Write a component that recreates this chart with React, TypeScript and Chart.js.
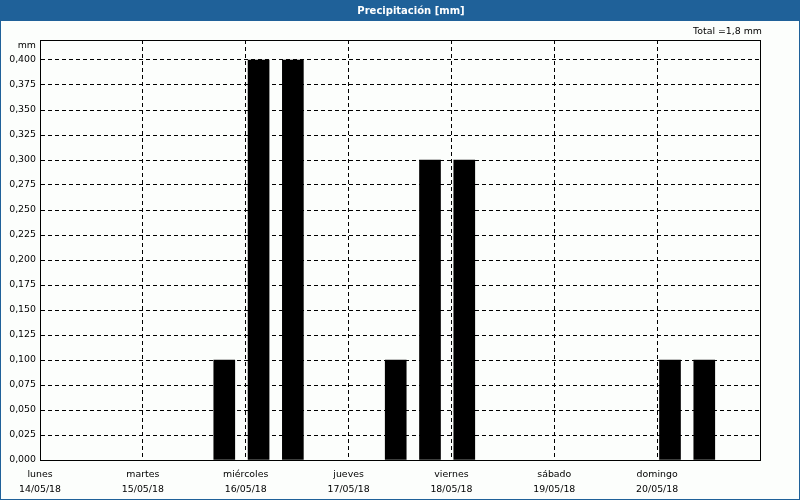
import React, { useEffect, useRef } from "react";
import { Chart, registerables } from "chart.js";

Chart.register(...registerables);

const dayNames = ["lunes", "martes", "miércoles", "jueves", "viernes", "sábado", "domingo"];
const dayDates = ["14/05/18", "15/05/18", "16/05/18", "17/05/18", "18/05/18", "19/05/18", "20/05/18"];
const barHours = [43, 51, 59, 83, 91, 99, 147, 155];
const barValues = [0.1, 0.4, 0.4, 0.1, 0.3, 0.3, 0.1, 0.1];
const titleText = "Precipitación [mm]";
const totalText = "Total =1,8 mm";
const unitText = "mm";

const FONT = "'DejaVu Sans', Tahoma, sans-serif";
const FS = 9.4;
const BLUE = "#1f6199";

const framePlugin = {
  id: "frame",
  beforeDraw(chart: any) {
    const ctx = chart.ctx;
    ctx.save();
    ctx.fillStyle = "#fcfefc";
    ctx.fillRect(0, 0, chart.width, chart.height);
    ctx.restore();
  },
  afterDraw(chart: any) {
    const ctx = chart.ctx;
    const { left, right, top, bottom } = chart.chartArea;
    ctx.save();
    ctx.strokeStyle = "#000";
    ctx.lineWidth = 1;
    ctx.setLineDash([]);
    ctx.strokeRect(Math.round(left) + 0.5, Math.round(top) + 0.5, Math.round(right - left), Math.round(bottom - top));
    ctx.fillStyle = BLUE;
    ctx.fillRect(0, 0, chart.width, 21);
    ctx.fillStyle = "#ffffff";
    ctx.font = `bold 10px ${FONT}`;
    ctx.textAlign = "center";
    ctx.textBaseline = "middle";
    ctx.fillText(titleText, 411, 11);
    ctx.strokeStyle = BLUE;
    ctx.lineWidth = 2;
    ctx.strokeRect(0, 0, chart.width, chart.height);
    ctx.fillStyle = "#000";
    ctx.font = `${FS}px ${FONT}`;
    ctx.textAlign = "right";
    ctx.fillText(totalText, 762, 32);
    ctx.fillText(unitText, 36, 46);
    ctx.restore();
  },
};

export default function App() {
  const ref = useRef<HTMLCanvasElement | null>(null);
  useEffect(() => {
    document.body.style.margin = "0";
    const canvas = ref.current!;
    const chart = new Chart(canvas, {
      type: "bar",
      data: {
        datasets: [
          {
            data: barHours.map((h, i) => ({ x: h, y: barValues[i] })),
            backgroundColor: "#000",
            borderWidth: 0,
            barThickness: 21,
          },
        ],
      },
      options: {
        animation: false,
        responsive: false,
        maintainAspectRatio: false,
        layout: { padding: { top: 40, right: 40, left: 0, bottom: 0 } },
        plugins: { legend: { display: false }, tooltip: { enabled: false } },
        scales: {
          x: {
            type: "linear",
            offset: false,
            min: 0,
            max: 168,
            afterFit: (s: any) => {
              s.height = 40;
            },
            ticks: {
              stepSize: 24,
              autoSkip: false,
              maxRotation: 0,
              padding: 7,
              color: "#000",
              font: { family: FONT, size: FS, lineHeight: 1.6 },
              callback: (v: any) => {
                const i = Math.round(Number(v) / 24);
                if (i >= 0 && i < dayNames.length) return [dayNames[i], dayDates[i]];
                return "";
              },
            },
            grid: {
              offset: false,
              color: "#000",
              lineWidth: 1,
              drawTicks: false,
            },
            border: { display: true, color: "#000", dash: [4, 3] },
          },
          y: {
            min: 0,
            max: 0.42,
            afterFit: (s: any) => {
              s.width = 40;
            },
            ticks: {
              stepSize: 0.025,
              includeBounds: false,
              padding: 4,
              color: "#000",
              font: { family: FONT, size: FS },
              callback: (v: any) => Number(v).toFixed(3).replace(".", ","),
            },
            grid: { color: "#000", lineWidth: 1, drawTicks: false },
            border: { display: true, color: "#000", dash: [4, 3] },
          },
        },
      },
      plugins: [framePlugin],
    });
    return () => chart.destroy();
  }, []);
  return <canvas ref={ref} width={800} height={500} style={{ display: "block" }} />;
}
